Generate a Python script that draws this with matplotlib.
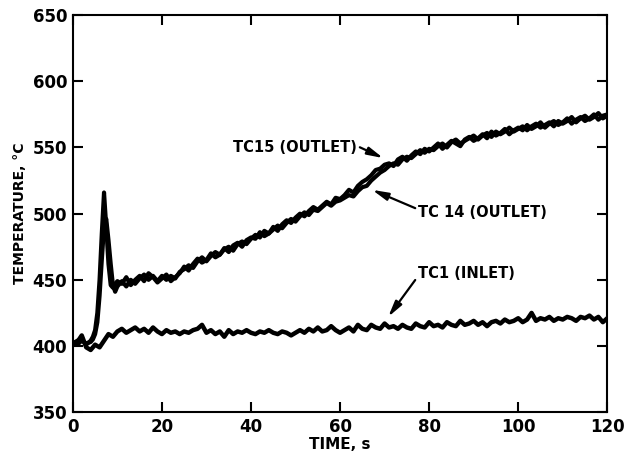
import matplotlib
matplotlib.use("Agg")
import matplotlib.pyplot as plt

# Time grid: half-second steps through the start-up transient, then 1 s
time_s = [0, 1, 2, 3, 4, 4.5, 5, 5.5, 6, 6.5, 7, 7.5, 8, 8.5, 9, 9.5, 10] + list(range(11, 121))

# Outlet thermocouple TC15, degC (transient 0-10 s, then 11-120 s)
tc15 = ([402, 404, 405, 401, 404, 407, 412, 425, 450, 485, 516, 490, 462, 446, 444, 447, 449] +
        [447, 452, 446, 450, 453, 449, 455, 452, 448, 451,
         454, 449, 452, 455, 460, 457, 462, 466, 463, 465,
         470, 467, 469, 474, 471, 476, 478, 475, 480, 482,
         481, 486, 483, 485, 490, 487, 492, 495, 493, 497,
         500, 498, 502, 505, 503, 506, 509, 507, 512, 511,
         514, 518, 516, 521, 524, 526, 529, 533, 534, 537,
         538, 536, 541, 543, 540, 544, 547, 545, 549, 547,
         550, 553, 549, 552, 555, 553, 551, 556, 558, 555,
         557, 560, 557, 562, 559, 561, 564, 560, 563, 565,
         563, 567, 564, 566, 569, 565, 568, 570, 567, 569,
         572, 568, 571, 573, 570, 572, 575, 571, 574, 575])

# Outlet thermocouple TC14, degC
tc14 = ([403, 401, 404, 402, 403, 405, 409, 418, 438, 465, 490, 496, 480, 462, 446, 441, 445] +
        [449, 445, 450, 447, 451, 454, 450, 453, 449, 453,
         450, 453, 451, 456, 458, 461, 459, 464, 467, 464,
         468, 471, 469, 473, 475, 472, 477, 479, 477, 481,
         484, 482, 487, 485, 488, 491, 489, 493, 496, 494,
         498, 501, 499, 503, 502, 505, 508, 506, 509, 510,
         512, 514, 513, 517, 520, 521, 525, 528, 531, 533,
         536, 538, 537, 541, 543, 542, 545, 548, 546, 549,
         548, 551, 553, 550, 554, 556, 553, 555, 557, 559,
         556, 559, 561, 558, 562, 560, 562, 565, 562, 564,
         566, 563, 566, 568, 565, 567, 569, 566, 570, 568,
         570, 573, 569, 572, 574, 571, 573, 576, 572, 574])

# Inlet thermocouple TC1, degC, 0-120 s
time_in = list(range(0, 121))
tc1 = [401, 403, 408, 399, 397, 401, 399, 404, 409, 407,
       411, 413, 410, 412, 414, 411, 413, 410, 414, 411,
       409, 412, 410, 411, 409, 411, 410, 412, 413, 416,
       410, 412, 409, 411, 407, 412, 409, 411, 410, 412,
       410, 409, 411, 410, 412, 410, 409, 411, 410, 408,
       410, 412, 410, 413, 411, 414, 411, 412, 415, 412,
       410, 412, 414, 411, 416, 413, 412, 416, 414, 413,
       417, 414, 415, 413, 416, 414, 413, 417, 415, 414,
       418, 415, 416, 414, 418, 416, 415, 419, 416, 417,
       419, 416, 418, 415, 418, 419, 417, 420, 418, 419,
       421, 418, 420, 425, 419, 421, 420, 422, 419, 421,
       420, 422, 421, 419, 422, 421, 423, 420, 422, 418,
       421]

x_ticks = [0, 20, 40, 60, 80, 100, 120]
y_ticks = [350, 400, 450, 500, 550, 600, 650]

plt.rcParams["font.family"] = ["Liberation Sans Narrow", "DejaVu Sans"]
plt.rcParams["font.weight"] = "bold"

fig = plt.figure(figsize=(6.28, 4.59), dpi=100)
ax = fig.add_axes([0.116, 0.102, 0.851, 0.865])

ax.plot(time_s, tc14, color="black", lw=3.0, solid_joinstyle="round")
ax.plot(time_s, tc15, color="black", lw=3.0, solid_joinstyle="round")
ax.plot(time_in, tc1, color="black", lw=3.2, solid_joinstyle="round")

ax.set_xlim(0, 120)
ax.set_ylim(350, 650)
ax.set_xticks(x_ticks)
ax.set_yticks(y_ticks)
ax.tick_params(direction="in", length=7, width=1.5, top=True, right=True,
               labelsize=12, pad=4)
for lab in ax.get_xticklabels() + ax.get_yticklabels():
    lab.set_fontweight("bold")
for sp in ax.spines.values():
    sp.set_linewidth(1.5)

ax.set_xlabel("TIME, s", fontsize=11, fontweight="bold", labelpad=1)
ax.set_ylabel("TEMPERATURE, °C", fontsize=10, fontweight="bold", labelpad=4)

arrow = dict(arrowstyle="-|>,head_length=0.9,head_width=0.22", color="black",
             lw=1.6, shrinkA=0, shrinkB=0)
ax.annotate("TC15 (OUTLET)", xy=(69.7, 542), xytext=(36, 550),
            fontsize=10.5, fontweight="bold", va="center", ha="left",
            arrowprops=dict(arrow, relpos=(1.0, 0.6)))
ax.annotate("TC 14 (OUTLET)", xy=(67.2, 518), xytext=(77.5, 501),
            fontsize=10.5, fontweight="bold", va="center", ha="left",
            arrowprops=dict(arrow, relpos=(0.0, 0.7)))
ax.annotate("TC1 (INLET)", xy=(70.8, 422), xytext=(77.5, 455),
            fontsize=10.5, fontweight="bold", va="center", ha="left",
            arrowprops=dict(arrow, relpos=(0.0, 0.3)))

fig.savefig("out.png", dpi=100)
